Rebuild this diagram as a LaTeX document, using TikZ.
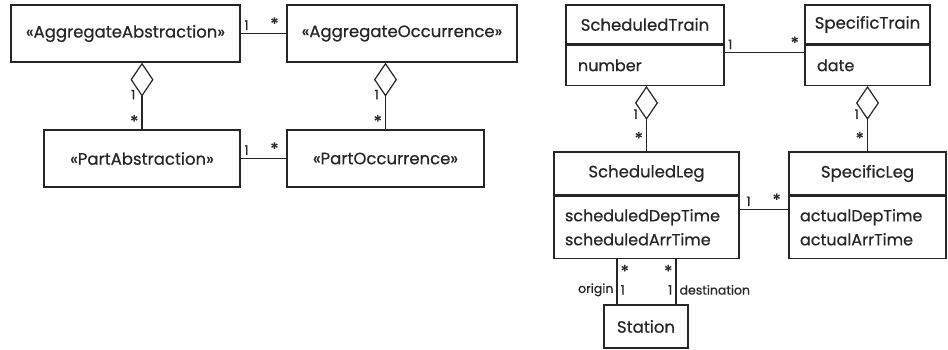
\documentclass[tikz,border=0pt]{standalone}
\usepackage{fontspec}
\setmainfont{Poppins}[FakeBold=0.6]
\usetikzlibrary{arrows.meta}
\newcommand{\many}{\raisebox{-0.22em}{\fontsize{17}{17}\selectfont *}}

\begin{document}
\begin{tikzpicture}[x=1pt, y=-1pt, black!85,
        cls/.style={draw, rectangle, line width=1.3pt, inner sep=0pt, font=\fontsize{16.5}{19}\selectfont},
        attr/.style={draw, rectangle, line width=1.3pt, inner sep=0pt, align=left, font=\fontsize{16}{24}\selectfont},
        mult/.style={inner sep=3pt, font=\fontsize{13}{13}\selectfont},
        role/.style={inner sep=3pt, font=\fontsize{12.5}{13}\selectfont},
        assoc/.style={line width=1.2pt},
        aggr/.style={line width=1.2pt, -{Diamond[open, length=34pt, width=23pt]}}]
        \useasboundingbox (0,0) rectangle (948,349);

        \node[cls, minimum width=229pt, minimum height=57pt] (aggAbs) at (125.5,33.5) {«AggregateAbstraction»};
        \node[cls, minimum width=230pt, minimum height=57pt] (aggOcc) at (402,33.5) {«AggregateOccurrence»};
        \node[cls, minimum width=196pt, minimum height=57pt] (partAbs) at (142,158.5) {«PartAbstraction»};
        \node[cls, minimum width=197pt, minimum height=57pt] (partOcc) at (385.5,158.5) {«PartOccurrence»};

        \node[cls, minimum width=158pt, minimum height=39pt] (schedTrain) at (645,24.5) {ScheduledTrain};
        \node[attr, minimum width=158pt, minimum height=40pt, text width=134pt, anchor=north] (schedTrainAttr) at (schedTrain.south) {number};
        \node[cls, minimum width=125pt, minimum height=39pt] (specTrain) at (867.5,24.5) {SpecificTrain};
        \node[attr, minimum width=125pt, minimum height=40pt, text width=101pt, anchor=north] (specTrainAttr) at (specTrain.south) {date};
        \node[cls, minimum width=185pt, minimum height=43pt] (schedLeg) at (646.5,173.5) {ScheduledLeg};
        \node[attr, minimum width=185pt, minimum height=62pt, text width=163pt, anchor=north] (schedLegAttr) at (schedLeg.south) {scheduledDepTime\\scheduledArrTime};
        \node[cls, minimum width=157pt, minimum height=43pt] (specLeg) at (867.5,173.5) {SpecificLeg};
        \node[attr, minimum width=157pt, minimum height=62pt, text width=135pt, anchor=north] (specLegAttr) at (specLeg.south) {actualDepTime\\actualArrTime};
        \node[cls, minimum width=84pt, minimum height=43pt] (station) at (646,326.5) {Station};

        \draw[assoc] (aggAbs) -- node[mult, pos=0.13, above] {1} node[mult, pos=0.74, above] {\many} (aggOcc);
        \draw[assoc] (partAbs) -- node[mult, pos=0.13, above] {1} node[mult, pos=0.74, above] {\many} (partOcc);
        \draw[aggr] (partAbs.north) -- node[mult, pos=0.12, left] {\many} node[mult, pos=0.52, left, xshift=-3pt] {1} (partAbs.north |- aggAbs.south);
        \draw[aggr] (partOcc.north) -- node[mult, pos=0.12, left] {\many} node[mult, pos=0.52, left, xshift=-3pt] {1} (partOcc.north |- aggOcc.south);

        \draw[assoc] ([yshift=-8pt]schedTrainAttr.north east) -- node[mult, pos=0.07, above] {1} node[mult, pos=0.88, above] {\many} ([yshift=-8pt]specTrainAttr.north west);
        \draw[aggr] (schedLeg.north) -- node[mult, pos=0.2, left] {\many} node[mult, pos=0.57, left, xshift=-5pt] {1} (schedLeg.north |- schedTrainAttr.south);
        \draw[aggr] (specLeg.north) -- node[mult, pos=0.2, left] {\many} node[mult, pos=0.57, left, xshift=-5pt] {1} (specLeg.north |- specTrainAttr.south);
        \draw[assoc] ([yshift=-14pt]schedLegAttr.north east) -- node[mult, pos=0.18, above] {1} node[mult, pos=0.76, above] {\many} ([yshift=-14pt]specLegAttr.north west);

        \coordinate (orgEnd) at ([xshift=-29pt]station.north);
        \coordinate (dstEnd) at ([xshift=30pt]station.north);
        \draw[assoc] (orgEnd |- schedLegAttr.south) -- node[mult, pos=0.27, right] {\many} node[mult, pos=0.68, right] {1} node[role, pos=0.68, left] {origin} (orgEnd);
        \draw[assoc] (dstEnd |- schedLegAttr.south) -- node[mult, pos=0.27, left] {\many} node[mult, pos=0.68, left] {1} node[role, pos=0.68, right] {destination} (dstEnd);
    \end{tikzpicture}
\end{document}
